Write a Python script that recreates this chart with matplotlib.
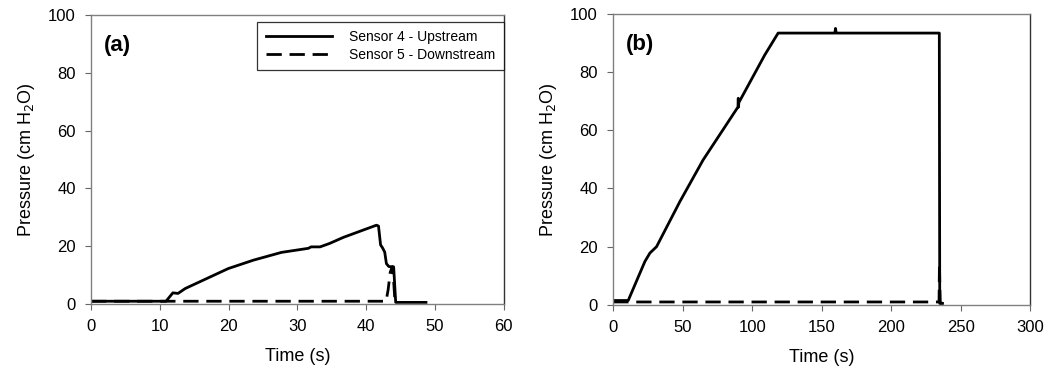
import matplotlib
matplotlib.use('Agg')
import matplotlib.pyplot as plt

plt.rcParams['font.family'] = ['Liberation Sans', 'DejaVu Sans']

# (a) short test
t_a_up = [0, 10.9, 11.9, 12.65, 13.7, 19.95, 23.6, 27.7, 31.6, 32.0, 33.3, 34.7, 36.7, 41.5,
          41.8, 42.1, 42.4, 42.7, 42.95, 43.3, 43.7, 44.0, 44.3, 48.7]
p_a_up = [1.0, 1.0, 3.9, 3.7, 5.4, 12.3, 15.2, 17.9, 19.3, 19.8, 19.8, 21.0, 23.1, 27.3,
          27.0, 20.5, 19.4, 18.0, 14.0, 13.0, 12.9, 12.9, 0.6, 0.6]
t_a_down = [0, 42.9, 43.2, 43.5, 43.8, 44.0, 44.2]
p_a_down = [1.0, 1.0, 5.0, 11.0, 13.0, 8.0, 0.6]

# (b) long test
t_b_up = [0, 10.8, 22.8, 26.4, 31.2, 48.0, 64.7, 89.8, 90.0, 90.2, 90.4, 109.1, 118.7,
          159.5, 160.0, 160.5, 234.7, 235.0, 237.0]
p_b_up = [1.5, 1.5, 14.9, 17.8, 20.0, 35.5, 49.8, 68.0, 71.0, 68.0, 69.5, 85.9, 93.4,
          93.4, 95.0, 93.4, 93.4, 0.5, 0.5]
t_b_down = [0, 234.5, 234.8, 235.1, 235.4, 238.8]
p_b_down = [1.0, 1.0, 14.4, 6.0, 0.6, 0.6]

fig = plt.figure(figsize=(10.5, 3.75), dpi=100)
ax1 = fig.add_axes([0.0867, 0.189, 0.393, 0.771])
ax2 = fig.add_axes([0.584, 0.187, 0.397, 0.776])

ax1.plot(t_a_up, p_a_up, color='black', lw=2.0, label='Sensor 4 - Upstream')
ax1.plot(t_a_down, p_a_down, color='black', lw=2.0, dashes=(5.5, 2.8), label='Sensor 5 - Downstream')
ax2.plot(t_b_up, p_b_up, color='black', lw=2.0)
ax2.plot(t_b_down, p_b_down, color='black', lw=2.0, dashes=(5.5, 2.8))

ax1.set_xlim(0, 60)
ax1.set_xticks(range(0, 61, 10))
ax2.set_xlim(0, 300)
ax2.set_xticks(range(0, 301, 50))

for ax, tag in [(ax1, '(a)'), (ax2, '(b)')]:
    ax.set_ylim(0, 100)
    ax.set_yticks(range(0, 101, 20))
    ax.set_xlabel('Time (s)', fontsize=13, labelpad=10)
    ax.set_ylabel('Pressure (cm H$_2$O)', fontsize=13, labelpad=8)
    ax.tick_params(direction='out', length=4, width=0.8, labelsize=12, pad=7,
                   colors='#666666', labelcolor='black')
    for s in ax.spines.values():
        s.set_color('#808080')
        s.set_linewidth(1.0)
    ax.spines['right'].set_color('#333333')
    ax.text(0.03, 0.875, tag, transform=ax.transAxes, fontsize=16, fontweight='bold')

leg = ax1.legend(loc='upper right', fontsize=10, handlelength=4.8, handletextpad=1.2,
                 frameon=True, fancybox=False, edgecolor='black', borderpad=0.6,
                 labelspacing=0.25, borderaxespad=0, bbox_to_anchor=(1.0, 0.976))
leg.get_frame().set_linewidth(0.9)

fig.savefig('out.png', dpi=100)
